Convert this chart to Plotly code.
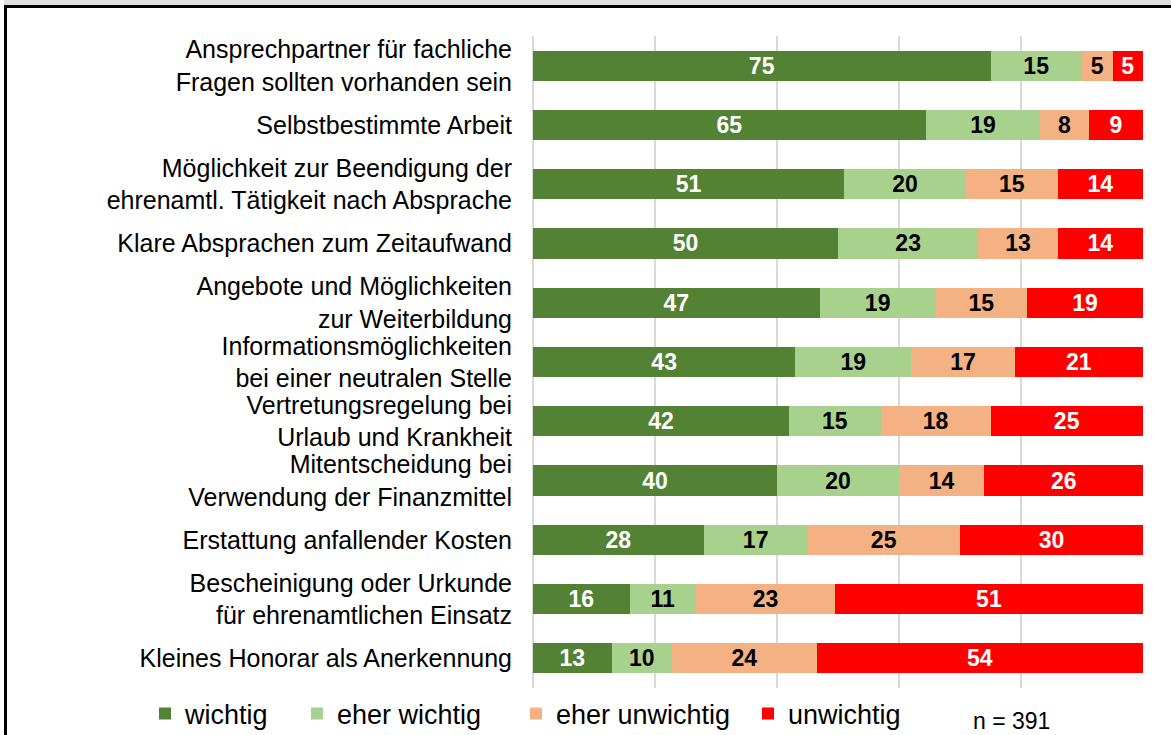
import plotly.graph_objects as go

categories = [
    "Ansprechpartner für fachliche<br>Fragen sollten vorhanden sein",
    "Selbstbestimmte Arbeit",
    "Möglichkeit zur Beendigung der<br>ehrenamtl. Tätigkeit nach Absprache",
    "Klare Absprachen zum Zeitaufwand",
    "Angebote und Möglichkeiten<br>zur Weiterbildung",
    "Informationsmöglichkeiten<br>bei einer neutralen Stelle",
    "Vertretungsregelung bei<br>Urlaub und Krankheit",
    "Mitentscheidung bei<br>Verwendung der Finanzmittel",
    "Erstattung anfallender Kosten",
    "Bescheinigung oder Urkunde<br>für ehrenamtlichen Einsatz",
    "Kleines Honorar als Anerkennung",
]
wichtig = [75, 65, 51, 50, 47, 43, 42, 40, 28, 16, 13]
eher_wichtig = [15, 19, 20, 23, 19, 19, 15, 20, 17, 11, 10]
eher_unwichtig = [5, 8, 15, 13, 15, 17, 18, 14, 25, 23, 24]
unwichtig = [5, 9, 14, 14, 19, 21, 25, 26, 30, 51, 54]

series_names = ["wichtig", "eher wichtig", "eher unwichtig", "unwichtig"]
series_values = [wichtig, eher_wichtig, eher_unwichtig, unwichtig]
colors = ["#548235", "#a9d18e", "#f4b183", "#ff0000"]
text_colors = ["white", "black", "black", "white"]
n_label = "n = 391"

totals = [sum(v) for v in zip(*series_values)]

W, H = 1171, 735
L, R, T, B = 533, 28, 36, 47
pw, ph = W - L - R, H - T - B


def px_x(p):
    return (p - L) / pw


def px_y(p):
    return (H - B - p) / ph


# left edge (pixels) of each legend entry
legend_left_px = [145, 297, 516, 748]
legend_ids = ["legend", "legend2", "legend3", "legend4"]

fig = go.Figure()
for name, vals, col, tcol, lid in zip(series_names, series_values, colors, text_colors, legend_ids):
    fig.add_trace(go.Bar(
        y=categories,
        x=[v / t * 100 for v, t in zip(vals, totals)],
        orientation="h",
        name=name,
        legend=lid,
        marker=dict(color=col, line=dict(width=0)),
        text=[str(v) for v in vals],
        textposition="inside",
        insidetextanchor="middle",
        textangle=0,
        constraintext="none",
        textfont=dict(family="Liberation Sans, Arial",
                      size=23, color=tcol, weight="bold"),
        hoverinfo="skip",
    ))

legend_common = dict(
    orientation="h",
    xref="container", yref="container",
    xanchor="left", yanchor="middle",
    y=1 - 714 / H,
    font=dict(size=27, color="black"),
    itemclick=False, itemdoubleclick=False,
    bgcolor="rgba(0,0,0,0)",
)
legend_layout = {
    lid: dict(legend_common, x=lx / W) for lid, lx in zip(legend_ids, legend_left_px)
}

fig.update_layout(
    width=W, height=H,
    barmode="stack",
    bargap=0.49,
    paper_bgcolor="white",
    plot_bgcolor="white",
    margin=dict(l=L, r=R, t=T, b=B, autoexpand=False),
    font=dict(family="Liberation Sans, Arial, sans-serif", color="black"),
    showlegend=True,
    xaxis=dict(
        range=[0, 100], dtick=20, showticklabels=False,
        showgrid=True, gridcolor="#d9d9d9", gridwidth=2,
        zeroline=True, zerolinecolor="#d9d9d9", zerolinewidth=2,
        showline=False, ticks="", fixedrange=True,
    ),
    yaxis=dict(
        autorange="reversed", showgrid=False, zeroline=False, showline=False,
        ticks="", ticklabelstandoff=20,
        tickfont=dict(size=25, color="black"),
        fixedrange=True,
    ),
    annotations=[dict(
        text=n_label, xref="paper", yref="paper",
        x=px_x(1011), y=px_y(721), xanchor="center", yanchor="middle",
        showarrow=False, font=dict(size=23, color="black"),
    )],
    shapes=[
        dict(type="rect", xref="paper", yref="paper",
             x0=px_x(4), x1=px_x(W + 2), y0=px_y(5), y1=px_y(-2),
             fillcolor="#e0e0e0", line=dict(width=0), layer="above"),
        dict(type="line", xref="paper", yref="paper",
             x0=px_x(4), x1=px_x(W + 2), y0=px_y(6.5), y1=px_y(6.5),
             line=dict(color="black", width=3), layer="above"),
        dict(type="line", xref="paper", yref="paper",
             x0=px_x(5.5), x1=px_x(5.5), y0=px_y(5), y1=px_y(H + 2),
             line=dict(color="black", width=3), layer="above"),
    ],
    **legend_layout,
)

fig.write_html(
    "out.html",
    config={"displayModeBar": False},
    post_script="document.body.style.margin='0';document.body.style.overflow='hidden';",
)
